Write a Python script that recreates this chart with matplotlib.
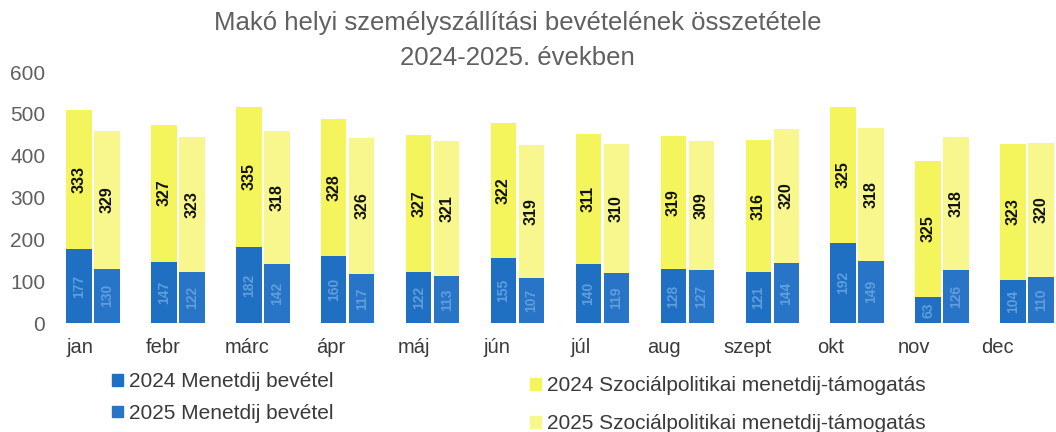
import numpy as np
import matplotlib
matplotlib.use("Agg")
import matplotlib.pyplot as plt
from matplotlib.patches import Patch

plt.rcParams['font.family'] = ['Liberation Sans', 'DejaVu Sans']

months = ["jan", "febr", "márc", "ápr", "máj", "jún", "júl", "aug", "szept", "okt", "nov", "dec"]

# menetdíj bevétel (ezer Ft)
fare_2024 = [177, 147, 182, 160, 122, 155, 140, 128, 121, 192, 63, 104]
fare_2025 = [130, 122, 142, 117, 113, 107, 119, 127, 144, 149, 126, 110]

# szociálpolitikai menetdíj-támogatás (ezer Ft)
subsidy_2024 = [333, 327, 335, 328, 327, 322, 311, 319, 316, 325, 325, 323]
subsidy_2025 = [329, 323, 318, 326, 321, 319, 310, 309, 320, 318, 318, 320]

blue_24 = "#1f6fc3"
blue_25 = "#2874c6"
yellow_24 = "#f4f45c"
yellow_25 = "#f7f78e"
text_col = "#3a3a3a"

fig = plt.figure(figsize=(10.56, 4.32), dpi=100)
ax = fig.add_axes([0.0559, 0.2523, 0.944, 0.581])

x = np.arange(len(months))
w = 0.30
off = 0.165

series = [
    (x - off, fare_2024, subsidy_2024, blue_24, yellow_24),
    (x + off, fare_2025, subsidy_2025, blue_25, yellow_25),
]
for xs, fare, sub, bc, yc in series:
    ax.bar(xs, fare, width=w, color=bc, edgecolor="none")
    ax.bar(xs, sub, width=w, bottom=fare, color=yc, edgecolor="none")
    for xi, f, s in zip(xs, fare, sub):
        ax.text(xi, f / 2, str(f), rotation=90, ha="center", va="center",
                fontsize=10, color="#5f9ddc", fontweight="bold")
        ax.text(xi, f + s / 2, str(s), rotation=90, ha="center", va="center",
                fontsize=11.5, color="#111111", fontweight="bold")

ax.set_xlim(-0.4, 11.34)
ax.set_ylim(0, 600)
ax.set_yticks(range(0, 601, 100))
ax.set_xticks(x * 0.982 - 0.15)
ax.set_xticklabels(months)
ax.tick_params(axis="both", length=0)
ax.tick_params(axis="y", pad=10, labelsize=15, colors="#606060")
ax.tick_params(axis="x", pad=11, labelsize=14.5, colors=text_col)
for sp in ax.spines.values():
    sp.set_visible(False)

fig.text(0.49, 0.947, "Makó helyi személyszállítási bevételének összetétele",
         ha="center", va="center", fontsize=18.5, color="#606060")
fig.text(0.49, 0.866, "2024-2025. években",
         ha="center", va="center", fontsize=18.5, color="#606060")

leg_kw = dict(frameon=False, fontsize=15, labelcolor=text_col, handlelength=0.5,
              handleheight=0.5, handletextpad=0.3, labelspacing=0.6, borderpad=0)
leg1 = fig.legend(handles=[Patch(color=blue_24, label="2024 Menetdij bevétel"),
                           Patch(color=blue_25, label="2025 Menetdij bevétel")],
                  loc="upper left", bbox_to_anchor=(102 / 1056, 1 - 362 / 432), **leg_kw)
leg_kw["labelspacing"] = 0.9
leg2 = fig.legend(handles=[Patch(color=yellow_24, label="2024 Szociálpolitikai menetdij-támogatás"),
                           Patch(color=yellow_25, label="2025 Szociálpolitikai menetdij-támogatás")],
                  loc="upper left", bbox_to_anchor=(520 / 1056, 1 - 366 / 432), **leg_kw)

fig.savefig("out.png", dpi=100)
